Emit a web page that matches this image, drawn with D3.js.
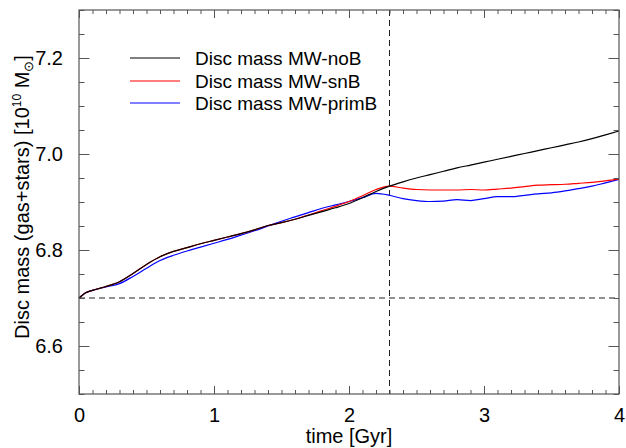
<!DOCTYPE html>
<html><head><meta charset="utf-8">
<script src="https://cdn.jsdelivr.net/npm/d3@7"></script>
<style>body{margin:0;background:#fff}text{font-family:"Liberation Sans",Arial,Helvetica,sans-serif}</style>
</head><body><svg id="c" width="626" height="448"></svg>
<script>
const time = [0,0.05,0.1,0.2,0.3,0.4,0.5,0.6,0.7,0.8,0.9,1.0,1.1,1.2,1.3,1.4,1.5,1.6,1.7,1.8,1.9,2.0,2.1,2.2,2.3,2.4,2.5,2.6,2.7,2.8,2.9,3.0,3.1,3.2,3.3,3.4,3.5,3.6,3.7,3.8,3.9,4.0];
const massNoB = [6.700,6.711,6.716,6.724,6.734,6.751,6.770,6.786,6.797,6.805,6.813,6.820,6.827,6.834,6.842,6.851,6.857,6.864,6.872,6.880,6.888,6.897,6.909,6.922,6.933,6.942,6.950,6.957,6.964,6.971,6.977,6.983,6.989,6.995,7.001,7.007,7.013,7.019,7.025,7.032,7.040,7.048];
const massSnB = [6.700,6.711,6.716,6.724,6.734,6.751,6.770,6.786,6.797,6.805,6.813,6.820,6.827,6.834,6.842,6.851,6.857,6.864,6.873,6.882,6.891,6.901,6.913,6.926,6.933,6.929,6.926,6.925,6.925,6.925,6.926,6.925,6.927,6.929,6.932,6.935,6.936,6.937,6.939,6.941,6.944,6.948];
const massPrimB = [6.700,6.711,6.716,6.723,6.730,6.745,6.762,6.778,6.789,6.798,6.806,6.814,6.822,6.831,6.840,6.850,6.860,6.869,6.878,6.887,6.894,6.901,6.909,6.918,6.914,6.907,6.903,6.901,6.902,6.905,6.903,6.907,6.911,6.911,6.914,6.917,6.919,6.923,6.928,6.933,6.940,6.947];
const seriesNames = ["Disc mass MW-noB","Disc mass MW-snB","Disc mass MW-primB"];
const seriesColors = ["#000000","#ff0000","#0000ff"];
const xTicks = [0,1,2,3,4];
const yTicks = [6.6,6.8,7.0,7.2];
const refTime = 2.3, refMass = 6.7;

const svg = d3.select("#c");
const L=79,R=619,T=10,B=394;
const x = d3.scaleLinear().domain([0,4]).range([L,R]);
const y = d3.scaleLinear().domain([6.5,7.3]).range([B,T]);
const frame="#555";

// reference dashed lines
svg.append("line").attr("x1",x(0)).attr("x2",x(4)).attr("y1",y(refMass)).attr("y2",y(refMass))
  .attr("stroke","#222").attr("stroke-width",1).attr("stroke-dasharray","6,4");
svg.append("line").attr("x1",x(refTime)).attr("x2",x(refTime)).attr("y1",y(7.3)).attr("y2",y(6.5))
  .attr("stroke","#222").attr("stroke-width",1).attr("stroke-dasharray","6,4");

// series
const data=[massNoB,massSnB,massPrimB];
const line=d3.line().x((d,i)=>x(time[i])).y(d=>y(d)).curve(d3.curveMonotoneX);
[2,1,0].forEach(k=>{
  svg.append("path").datum(data[k]).attr("d",line).attr("fill","none")
    .attr("stroke",seriesColors[k]).attr("stroke-width",1.2);
});

// axes (inward ticks on all sides)
const xMinor=d3.range(0,4.0001,0.1), yMinor=d3.range(6.5,7.3001,0.05);
const gB=svg.append("g").attr("transform",`translate(0,${B})`)
  .call(d3.axisBottom(x).tickValues(xMinor).tickSize(-4).tickFormat(""));
const gB2=svg.append("g").attr("transform",`translate(0,${B})`)
  .call(d3.axisBottom(x).tickValues(xTicks).tickSize(-8).tickPadding(14).tickFormat(d3.format("d")));
const gT=svg.append("g").attr("transform",`translate(0,${T})`)
  .call(d3.axisTop(x).tickValues(xMinor).tickSize(-4).tickFormat(""));
const gT2=svg.append("g").attr("transform",`translate(0,${T})`)
  .call(d3.axisTop(x).tickValues(xTicks).tickSize(-8).tickFormat(""));
const gL=svg.append("g").attr("transform",`translate(${L},0)`)
  .call(d3.axisLeft(y).tickValues(yMinor).tickSize(-5.5).tickFormat(""));
const gL2=svg.append("g").attr("transform",`translate(${L},0)`)
  .call(d3.axisLeft(y).tickValues(yTicks).tickSize(-10.5).tickPadding(16).tickFormat(d3.format(".1f")));
const gR=svg.append("g").attr("transform",`translate(${R},0)`)
  .call(d3.axisRight(y).tickValues(yMinor).tickSize(-5.5).tickFormat(""));
const gR2=svg.append("g").attr("transform",`translate(${R},0)`)
  .call(d3.axisRight(y).tickValues(yTicks).tickSize(-10.5).tickFormat(""));
svg.selectAll(".domain").remove();
svg.selectAll(".tick line").attr("stroke",frame);
svg.selectAll(".tick text").attr("font-size",20).attr("fill","#000")
  .attr("font-family",'"Liberation Sans",Arial,sans-serif');
svg.append("rect").attr("x",L).attr("y",T).attr("width",R-L).attr("height",B-T)
  .attr("fill","none").attr("stroke",frame).attr("stroke-width",1.2);

// axis titles
svg.append("text").attr("x",(L+R)/2).attr("y",443).attr("text-anchor","middle")
  .attr("font-size",20).text("time [Gyr]");
const yt=svg.append("text").attr("transform","translate(29,197) rotate(-90)")
  .attr("text-anchor","middle").attr("font-size",20);
yt.append("tspan").text("Disc mass (gas+stars) [10");
yt.append("tspan").attr("font-size",12).attr("dy",-8).text("10");
yt.append("tspan").attr("dy",8).text(" M");
yt.append("tspan").attr("font-size",13).attr("dy",4).text("⊙");
yt.append("tspan").attr("dy",-4).text("]");

// legend
const ly=[58,81,103];
seriesNames.forEach((n,i)=>{
  svg.append("line").attr("x1",130).attr("x2",180).attr("y1",ly[i]).attr("y2",ly[i])
    .attr("stroke",seriesColors[i]).attr("stroke-width",1.2);
  svg.append("text").attr("x",195).attr("y",ly[i]+7).attr("font-size",19).text(n);
});
</script></body></html>
